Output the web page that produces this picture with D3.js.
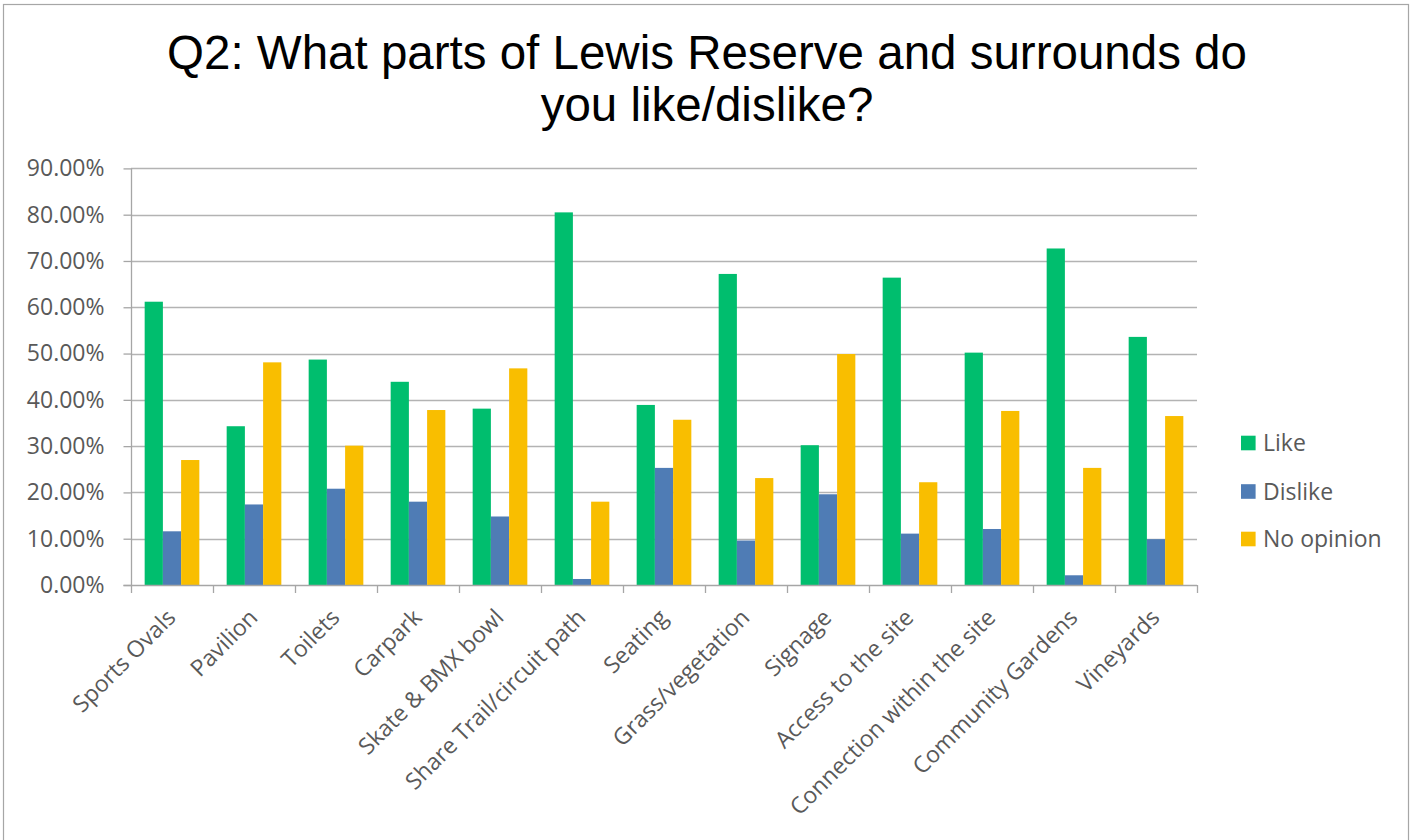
<!DOCTYPE html>
<html>
<head>
<meta charset="utf-8">
<script src="https://cdn.jsdelivr.net/npm/d3@7"></script>
<style>
  html, body { margin: 0; padding: 0; background: #ffffff; }
  svg { display: block; }
</style>
</head>
<body>
<svg id="chart" width="1414" height="840"></svg>
<script>
// ---- data ----
const categories = ["Sports Ovals", "Pavilion", "Toilets", "Carpark", "Skate & BMX bowl",
  "Share Trail/circuit path", "Seating", "Grass/vegetation", "Signage", "Access to the site",
  "Connection within the site", "Community Gardens", "Vineyards"];
const seriesNames = ["Like", "Dislike", "No opinion"];
const likeValues = [0.612, 0.343, 0.487, 0.439, 0.381, 0.805, 0.389, 0.672, 0.302, 0.664, 0.502, 0.727, 0.536];
const dislikeValues = [0.116, 0.174, 0.208, 0.180, 0.148, 0.013, 0.253, 0.096, 0.196, 0.111, 0.121, 0.021, 0.099];
const noOpinionValues = [0.270, 0.481, 0.301, 0.378, 0.468, 0.180, 0.357, 0.231, 0.499, 0.222, 0.376, 0.253, 0.365];
const yTickValues = [0, 0.1, 0.2, 0.3, 0.4, 0.5, 0.6, 0.7, 0.8, 0.9];
const seriesColors = ["#00be6e", "#4f7cb5", "#f9be00"];
const titleLines = ["Q2: What parts of Lewis Reserve and surrounds do", "you like/dislike?"];

const seriesValues = [likeValues, dislikeValues, noOpinionValues];
const rows = categories.map((c, i) => ({
  category: c,
  values: seriesNames.map((s, j) => ({ series: s, value: seriesValues[j][i] }))
}));

// ---- layout ----
const svg = d3.select("#chart");
const plot = { left: 131, right: 1197, top: 168.4, bottom: 585 };
const labelColor = "#595959";
const tickFont = "'Open Sans', 'Noto Sans', sans-serif";
const tickSize = 23;

// outer frame
svg.append("rect")
  .attr("x", 3.5).attr("y", 4.5)
  .attr("width", 1405).attr("height", 845)
  .attr("fill", "#ffffff")
  .attr("stroke", "#a6a6a6").attr("stroke-width", 1.2);

// title
const title = svg.append("text")
  .attr("text-anchor", "middle")
  .attr("font-family", "'Liberation Sans', Arial, sans-serif")
  .attr("font-size", 47.5)
  .attr("fill", "#000000");
titleLines.forEach((t, i) => {
  title.append("tspan").attr("x", 707).attr("y", 69 + i * 52).text(t);
});

// scales
const x = d3.scaleBand().domain(categories).range([plot.left, plot.right]).padding(0);
const barW = x.step() / 4.5;
const xs = d3.scaleBand().domain(seriesNames).range([0.75 * barW, 3.75 * barW]).padding(0);
const y = d3.scaleLinear().domain([0, 0.9]).range([plot.bottom, plot.top]);
const color = d3.scaleOrdinal().domain(seriesNames).range(seriesColors);

// gridlines
svg.append("g")
  .selectAll("line")
  .data(yTickValues.filter(d => d > 0))
  .join("line")
  .attr("x1", plot.left).attr("x2", plot.right)
  .attr("y1", d => Math.round(y(d)) + 0.5).attr("y2", d => Math.round(y(d)) + 0.5)
  .attr("stroke", "#b3b3b3").attr("stroke-width", 1.4);

// bars
const groups = svg.append("g")
  .selectAll("g")
  .data(rows)
  .join("g")
  .attr("transform", d => `translate(${x(d.category)},0)`);
groups.selectAll("rect")
  .data(d => d.values)
  .join("rect")
  .attr("x", d => xs(d.series))
  .attr("width", xs.bandwidth())
  .attr("y", d => y(d.value))
  .attr("height", d => y(0) - y(d.value))
  .attr("fill", d => color(d.series));

// y axis
const yAxis = svg.append("g")
  .attr("transform", `translate(${plot.left + 0.5},0)`)
  .call(d3.axisLeft(y).tickValues(yTickValues)
    .tickFormat(d => (d * 100).toFixed(2) + "%")
    .tickSize(8).tickPadding(19));
yAxis.select(".domain").attr("stroke", "#a6a6a6").attr("stroke-width", 1.3)
  .attr("d", `M-8,${plot.bottom + 0.5}H0V${plot.top}`);
yAxis.selectAll(".tick line").attr("stroke", "#a6a6a6").attr("stroke-width", 1.3);
yAxis.selectAll(".tick text")
  .attr("font-family", tickFont).attr("font-size", tickSize)
  .attr("fill", labelColor);

// x axis line and boundary ticks
const xAxisG = svg.append("g");
xAxisG.append("line")
  .attr("x1", plot.left).attr("x2", plot.right)
  .attr("y1", plot.bottom + 0.5).attr("y2", plot.bottom + 0.5)
  .attr("stroke", "#a6a6a6").attr("stroke-width", 1.3);
const boundaries = categories.map(c => x(c)).concat([x.range()[1]]);
xAxisG.selectAll("line.tk")
  .data(boundaries)
  .join("line")
  .attr("class", "tk")
  .attr("x1", d => Math.round(d) + 0.5).attr("x2", d => Math.round(d) + 0.5)
  .attr("y1", plot.bottom).attr("y2", plot.bottom + 8)
  .attr("stroke", "#a6a6a6").attr("stroke-width", 1.3);

// x labels
xAxisG.selectAll("text")
  .data(categories)
  .join("text")
  .attr("transform", d => `translate(${x(d) + x.bandwidth() / 2 + 5},${619}) rotate(-45)`)
  .attr("text-anchor", "end")
  .attr("font-family", tickFont).attr("font-size", tickSize)
  .attr("fill", labelColor)
  .text(d => d);

// legend
const legend = svg.append("g");
const legendY = [443, 491.5, 539];
const lg = legend.selectAll("g")
  .data(seriesNames)
  .join("g")
  .attr("transform", (d, i) => `translate(1241,${legendY[i]})`);
lg.append("rect")
  .attr("x", 0).attr("y", -7.3)
  .attr("width", 14.6).attr("height", 14.6)
  .attr("fill", d => color(d));
lg.append("text")
  .attr("x", 22).attr("y", 0).attr("dy", "0.35em")
  .attr("font-family", tickFont).attr("font-size", tickSize)
  .attr("fill", labelColor)
  .text(d => d);
</script>
</body>
</html>
